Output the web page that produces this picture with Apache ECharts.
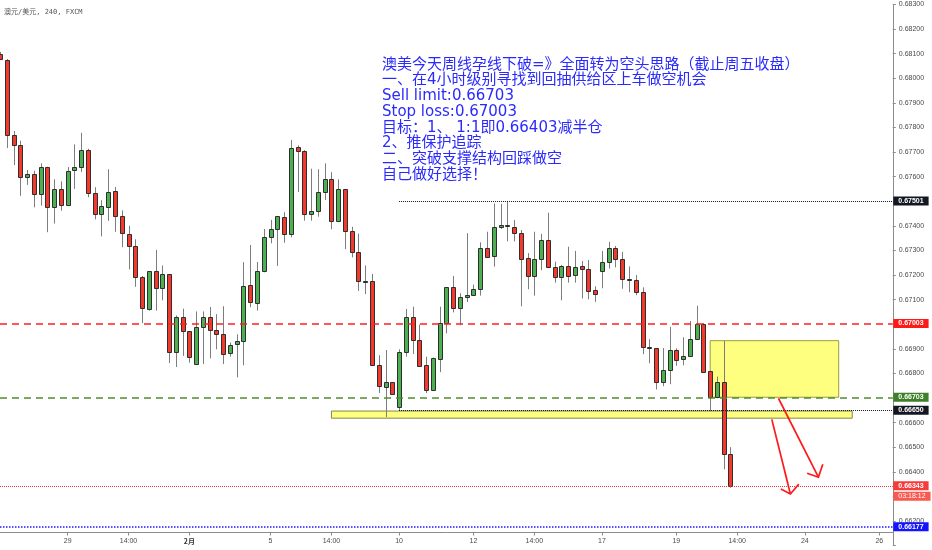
<!DOCTYPE html>
<html><head><meta charset="utf-8">
<script src="https://cdn.jsdelivr.net/npm/echarts@6/dist/echarts.min.js"></script>
<style>html,body{margin:0;padding:0;background:#fff}#c{width:932px;height:550px}</style>
</head><body><div id="c"></div>
<script>
// ---- data ----
const openP = [0.68098,0.68074,0.67769,0.67727,0.67598,0.67611,0.67531,0.67640,0.67475,0.67551,
0.67483,0.67626,0.67638,0.67709,0.67532,0.67449,0.67478,0.67540,0.67441,0.67367,
0.67317,0.67191,0.67063,0.67215,0.67146,0.67203,0.66886,0.67029,0.66972,0.66837,
0.66987,0.67028,0.66976,0.66961,0.66882,0.66918,0.66932,0.67159,0.67087,0.67218,
0.67356,0.67386,0.67437,0.67367,0.67719,0.67704,0.67448,0.67459,0.67536,0.67590,
0.67420,0.67550,0.67380,0.67295,0.67177,0.67177,0.66833,0.66745,0.66765,0.66665,
0.66886,0.67028,0.66937,0.66833,0.66733,0.66860,0.67004,0.67151,0.67067,0.67109,
0.67120,0.67143,0.67309,0.67276,0.67395,0.67404,0.67395,0.67372,0.67270,0.67196,
0.67266,0.67342,0.67233,0.67193,0.67237,0.67198,0.67237,0.67226,0.67139,0.67215,
0.67254,0.67309,0.67264,0.67183,0.67179,0.67130,0.66906,0.66903,0.66764,0.66815,
0.66894,0.66857,0.66871,0.66941,0.67002,0.66811,0.66703,0.66764,0.66472];
const closeP = [0.68078,0.67769,0.67727,0.67600,0.67612,0.67531,0.67638,0.67475,0.67551,0.67486,
0.67622,0.67638,0.67709,0.67532,0.67449,0.67479,0.67537,0.67441,0.67370,0.67317,
0.67191,0.67065,0.67216,0.67146,0.67203,0.66886,0.67031,0.66972,0.66866,0.66987,
0.67028,0.66976,0.66961,0.66880,0.66917,0.66932,0.67157,0.67090,0.67218,0.67356,
0.67386,0.67439,0.67367,0.67718,0.67704,0.67448,0.67460,0.67536,0.67590,0.67420,
0.67551,0.67380,0.67292,0.67177,0.67177,0.66833,0.66748,0.66764,0.66716,0.66888,
0.67028,0.66935,0.66831,0.66733,0.66864,0.67004,0.67151,0.67067,0.67111,0.67120,
0.67144,0.67309,0.67274,0.67394,0.67404,0.67398,0.67372,0.67266,0.67196,0.67266,
0.67342,0.67233,0.67193,0.67237,0.67196,0.67233,0.67226,0.67136,0.67123,0.67254,
0.67309,0.67264,0.67183,0.67179,0.67130,0.66906,0.66904,0.66764,0.66815,0.66894,
0.66856,0.66872,0.66941,0.67002,0.66807,0.66703,0.66765,0.66472,0.66343];
const highP = [0.68107,0.68078,0.67785,0.67746,0.67627,0.67624,0.67654,0.67640,0.67589,0.67581,
0.67639,0.67731,0.67778,0.67713,0.67557,0.67504,0.67630,0.67558,0.67463,0.67400,
0.67345,0.67196,0.67216,0.67302,0.67239,0.67203,0.67036,0.67063,0.66972,0.67052,
0.67052,0.67070,0.67041,0.67073,0.66925,0.66959,0.67252,0.67322,0.67253,0.67387,
0.67424,0.67439,0.67455,0.67749,0.67727,0.67708,0.67632,0.67630,0.67654,0.67618,
0.67589,0.67550,0.67396,0.67368,0.67239,0.67204,0.66874,0.66895,0.66765,0.66898,
0.67062,0.67071,0.66998,0.66868,0.66864,0.67071,0.67151,0.67196,0.67126,0.67370,
0.67161,0.67333,0.67376,0.67491,0.67489,0.67501,0.67424,0.67383,0.67289,0.67376,
0.67367,0.67453,0.67254,0.67241,0.67315,0.67298,0.67257,0.67261,0.67154,0.67298,
0.67335,0.67318,0.67294,0.67235,0.67200,0.67150,0.66939,0.66903,0.66903,0.66989,
0.66902,0.66947,0.67013,0.67075,0.67005,0.66811,0.66787,0.66933,0.66500];
const lowP = [0.68074,0.67716,0.67647,0.67522,0.67566,0.67475,0.67482,0.67374,0.67409,0.67461,
0.67481,0.67550,0.67619,0.67516,0.67426,0.67357,0.67420,0.67376,0.67313,0.67223,
0.67152,0.67004,0.67055,0.67055,0.67097,0.66842,0.66826,0.66871,0.66844,0.66837,
0.66838,0.66861,0.66898,0.66838,0.66868,0.66784,0.66833,0.67069,0.67055,0.67211,
0.67329,0.67237,0.67331,0.67353,0.67537,0.67421,0.67421,0.67437,0.67505,0.67386,
0.67417,0.67305,0.67272,0.67135,0.67123,0.66833,0.66720,0.66622,0.66716,0.66650,
0.66868,0.66879,0.66831,0.66720,0.66730,0.66805,0.66963,0.67048,0.66996,0.67090,
0.67115,0.67116,0.67273,0.67234,0.67387,0.67337,0.67337,0.67073,0.67142,0.67116,
0.67220,0.67233,0.67169,0.67097,0.67169,0.67169,0.67105,0.67101,0.67091,0.67146,
0.67226,0.67231,0.67144,0.67130,0.67118,0.66878,0.66841,0.66735,0.66748,0.66756,
0.66831,0.66833,0.66871,0.66941,0.66807,0.66648,0.66699,0.66410,0.66335];

const slotCount = 133;                       // bar slots on the time axis (incl. empty future space)
const tickIdx  = [10, 19, 28, 40, 49, 59, 70, 79, 89, 100, 109, 119, 130];
const tickText = ['29','14:00','2月','5','14:00','10','12','14:00','17','19','14:00','24','26'];

const resistanceHigh = 0.67501;   // black dotted
const stopLoss = 0.67003;         // red dashed
const sellLimit = 0.66703;        // green dashed
const supportLow = 0.66650;       // black dotted
const lastPrice = 0.66343;        // red dotted
const lowLevel = 0.66177;         // blue dotted
const levelStartIdx = 59;
const countdown = '03:18:12';

const bandZone = [[49, 0.66647], [126, 0.66618]];
const supplyZone = [[105, 0.66933], [124, 0.66703]];

const arrowPaths = [
  [[114.11, 0.66613], [116.86, 0.66310]],
  [[115.45, 0.66330], [116.86, 0.66310], [118.10, 0.66350]],
  [[115.09, 0.66699], [121.00, 0.66378]],
  [[119.33, 0.66394], [121.00, 0.66378], [121.65, 0.66431]]
];

const titleText = '澳元/美元, 240, FXCM';
const noteLines = [
  '澳美今天周线孕线下破=》全面转为空头思路（截止周五收盘）',
  '一、在4小时级别寻找到回抽供给区上车做空机会',
  'Sell limit:0.66703',
  'Stop loss:0.67003',
  '目标：1、 1:1即0.66403减半仓',
  '2、推保护追踪',
  '二、突破支撑结构回踩做空',
  '自己做好选择！'
];

// ---- build ----
const categories = Array.from({length: slotCount}, (_, i) => String(i));
const tickMap = {};
tickIdx.forEach((k, j) => { tickMap[k] = tickText[j]; });
const candleData = openP.map((o, i) => [i, o, closeP[i], lowP[i], highP[i]]);

const AX = '#8c8c8c';
const LBL = '#4a4a4a';
function boxLabel(bg, text) {
  return { show: true, position: 'end', distance: 0.5, formatter: text, color: '#fff',
    backgroundColor: bg, padding: [1, 5, 0, 5], fontSize: 7, fontWeight: 'bold',
    fontFamily: '"Liberation Sans", Arial, sans-serif', lineHeight: 8 };
}
function level(from, value, color, dash, width, bg, text) {
  const ls = { color: color, type: dash, width: width };
  const lb = boxLabel(bg, text);
  return [ { coord: [from, value], lineStyle: ls, label: lb }, { coord: [slotCount - 1, value], lineStyle: ls, label: lb } ];
}

const chart = echarts.init(document.getElementById('c'));
chart.setOption({
  animation: false,
  backgroundColor: '#ffffff',
  grid: { left: 0, right: 39.2, top: 4.4, bottom: 4.4, containLabel: false },
  xAxis: {
    type: 'category', data: categories, boundaryGap: false, offset: -13.1,
    axisLine: { show: true, lineStyle: { color: AX, width: 1 } },
    axisTick: { show: true, length: 3, interval: (i) => tickMap[i] !== undefined, lineStyle: { color: AX } },
    axisLabel: {
      interval: (i) => tickMap[i] !== undefined, margin: 5, fontSize: 7, color: LBL,
      fontFamily: '"Liberation Sans", Arial, "Noto Sans CJK SC", sans-serif',
      formatter: (v, i) => { const t = tickMap[i]; if (t === undefined) return ''; return t === '2月' ? '{b|' + t + '}' : t; },
      rich: { b: { fontWeight: 'bold', fontSize: 7, color: '#333', fontFamily: '"Noto Sans CJK SC", sans-serif' } }
    },
    splitLine: { show: false }
  },
  yAxis: {
    type: 'value', position: 'right', min: 0.661, max: 0.683, interval: 0.001,
    axisLine: { show: true, lineStyle: { color: AX, width: 1 } },
    axisTick: { show: true, length: 3, lineStyle: { color: AX } },
    axisLabel: { margin: 6, fontSize: 7, color: LBL, fontFamily: '"Liberation Sans", Arial, sans-serif',
      formatter: (v) => (v < 0.6615) ? '' : v.toFixed(5) },
    splitLine: { show: false }
  },
  graphic: [
    { type: 'text', left: 4, top: 8.5, z: 100,
      style: { text: titleText, font: '7px "DejaVu Sans Mono", "Noto Sans CJK SC", monospace', fill: '#555' } },
    { type: 'text', left: 382, top: 57, z: 100,
      style: { text: noteLines.join('\n'), font: '15px "DejaVu Sans", "Noto Sans CJK SC", sans-serif',
        fill: '#2a2aff', lineHeight: 15.7 } }
  ],
  series: [
    {
      type: 'custom', name: 'AUDUSD', z: 2, clip: true,
      data: candleData,
      encode: { x: 0, y: [1, 2, 3, 4] },
      renderItem: function (params, api) {
        const i = api.value(0);
        const o = api.value(1), c = api.value(2), l = api.value(3), h = api.value(4);
        const po = api.coord([i, o]), pc = api.coord([i, c]);
        const pl = api.coord([i, l]), ph = api.coord([i, h]);
        const n = Math.round(po[0]);
        const cx = n + 0.5;
        const top = Math.round(Math.min(po[1], pc[1])) + 0.5;
        let bot = Math.round(Math.max(po[1], pc[1])) + 0.5;
        if (bot - top < 1) bot = top + 1;
        const doji = Math.abs(c - o) < 0.00002;
        const fill = doji ? '#222' : (c > o ? '#4caf50' : '#f5382c');
        return { type: 'group', children: [
          { type: 'line', shape: { x1: cx, y1: ph[1], x2: cx, y2: pl[1] }, style: { stroke: '#7d7d7d', lineWidth: 1 } },
          { type: 'rect', shape: { x: n - 1.5, y: top, width: 4, height: bot - top },
            style: { fill: fill, stroke: '#2e2e2e', lineWidth: 1 } }
        ] };
      },
      markArea: {
        silent: true,
        data: [
          [ { coord: bandZone[0], itemStyle: { color: 'rgba(255,255,0,0.5)', borderColor: 'rgba(110,110,60,0.85)', borderWidth: 1 } },
            { coord: bandZone[1] } ],
          [ { coord: supplyZone[0], itemStyle: { color: 'rgba(255,255,0,0.5)', borderColor: 'rgba(140,140,40,0.85)', borderWidth: 1 } },
            { coord: supplyZone[1] } ]
        ]
      }
    },
    {
      type: 'line', name: 'levels', z: 5, data: [], symbol: 'none',
      markLine: {
        silent: true, symbol: ['none', 'none'],
        data: [
          level(levelStartIdx, resistanceHigh, '#131722', [1, 1], 1.2, '#131722', '0.67501'),
          level(0, stopLoss, '#ff2020', [7, 5], 1.5, '#ff1a1a', '0.67003'),
          level(0, sellLimit, '#4f8f2f', [7, 5], 1.5, '#3f7f2a', '0.66703'),
          level(levelStartIdx, supportLow, '#131722', [1, 1], 1.2, '#131722', '0.66650'),
          level(0, lastPrice, '#f23645', [1, 1], 1, '#f63b3b', '0.66343'),
          level(0, lowLevel, '#1a1aff', [1.5, 1.5], 1.5, '#1414ff', '0.66177')
        ]
      },
      markPoint: {
        silent: true, symbol: 'rect', symbolSize: 0,
        data: [ { coord: [slotCount - 1, lastPrice], label: { show: true, position: 'right', distance: 0.5, offset: [0, 10.5],
          formatter: countdown, color: '#fff', backgroundColor: '#f85a50', padding: [1, 5, 0, 5], fontSize: 7,
          fontFamily: '"Liberation Sans", Arial, sans-serif', lineHeight: 8 } } ]
      }
    },
    {
      type: 'custom', name: 'arrows', z: 6, clip: false,
      data: arrowPaths.map((p, k) => [k]),
      encode: { x: 0 },
      renderItem: function (params, api) {
        const path = arrowPaths[params.dataIndex];
        const bw = api.size([1, 0])[0];
        const pts = path.map(([x, y]) => { const f = Math.floor(x); const c = api.coord([f, y]); return [c[0] + (x - f) * bw, c[1]]; });
        return { type: 'polyline', shape: { points: pts }, style: { stroke: '#ff1a1a', lineWidth: 1.7, fill: null } };
      }
    }
  ]
});
</script>
</body></html>
